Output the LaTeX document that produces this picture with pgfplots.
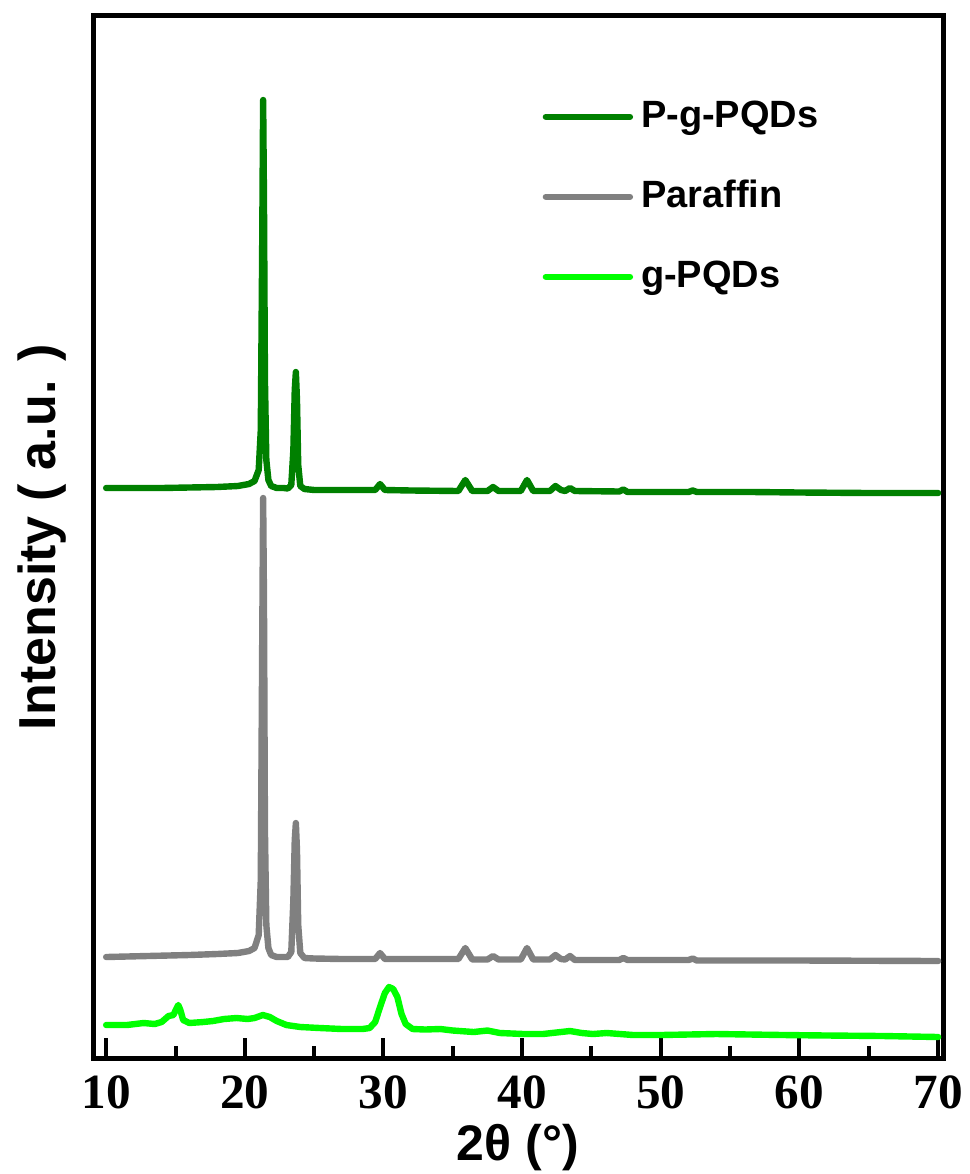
\documentclass[border=0pt]{standalone}
\usepackage{fontspec}
\setmainfont{Liberation Serif}
\setsansfont{Liberation Sans}
\usepackage{pgfplots}
\pgfplotsset{compat=1.18}
\definecolor{dgreen}{RGB}{0,128,0}
\definecolor{pgray}{RGB}{128,128,128}
\definecolor{lgreen}{RGB}{0,255,0}

\begin{document}
\begin{tikzpicture}
\useasboundingbox (-23.25pt,-29pt) rectangle (219.25pt,264.5pt);
\begin{axis}[at={(0,0)}, anchor=south west, scale only axis, width=212.5pt, height=260.5pt,
  xmin=9.05, xmax=70.35, ymin=16, ymax=1058, y dir=reverse,
  xtick={10,20,...,70}, minor x tick num=1, xtick pos=bottom, ytick=\empty,
  tick align=inside, major tick length=5pt, minor tick length=3pt,
  tick style={line width=1pt, black},
  axis line style={line width=1.25pt},
  /pgf/number format/assume math mode=true,
  xticklabel style={font=\bfseries\fontsize{12.3}{14}\selectfont, yshift=-1pt},
  xlabel={2θ (°)}, ylabel={Intensity ( a.u. )},
  xlabel style={font=\sffamily\bfseries\fontsize{12.5}{14}\selectfont, at={(axis description cs:0.5,-0.0979)}, anchor=base},
  ylabel style={font=\sffamily\bfseries\fontsize{13}{14}\selectfont, at={(axis description cs:-0.0447,0.5)}, anchor=base, rotate=0},
  legend style={draw=none, fill=none, at={(0.514,0.935)}, anchor=north west,
    font=\sffamily\bfseries\fontsize{9.5}{11}\selectfont, row sep=7.75pt},
  legend cell align=left,
  legend image code/.code={\draw[#1, line cap=round] (1.25pt,0pt) -- (22.25pt,0pt);},
  every axis plot/.append style={line width=1.6pt, line join=round, line cap=round}]
\addplot[dgreen] coordinates {
(10,488) (12,488) (14,488) (16,487.5) (18,487) (19.5,486) (20.3,484) (20.7,481)
(21.0,470) (21.15,430) (21.25,250) (21.32,100) (21.38,200) (21.45,380) (21.55,460)
(21.7,480) (21.9,486) (22.3,488) (22.8,488) (23.1,488.5) (23.35,485) (23.5,450)
(23.6,390) (23.68,372) (23.76,400) (23.85,465) (24.0,486) (24.3,489) (25,490)
(27,490) (29.4,490) (29.75,484) (30.1,490) (32,490.5) (35.4,491) (35.9,480)
(36.4,491) (37.5,491) (37.9,487) (38.3,491) (39.9,491) (40.35,480) (40.8,491)
(42.0,491) (42.4,486) (42.8,490) (43.1,491) (43.45,488) (43.8,491) (47.0,491.5)
(47.3,489.5) (47.6,492) (52.0,492) (52.3,490.5) (52.6,492) (56.5,492) (60,492.5)
(65,493) (70,493)
};
\addlegendentry{P-g-PQDs}
\addplot[pgray] coordinates {
(10,957) (13,956) (16,955) (18,954) (19.5,953) (20.3,951) (20.7,948) (21.0,935)
(21.15,880) (21.25,650) (21.32,498) (21.38,600) (21.45,830) (21.55,925) (21.7,948)
(21.9,955) (22.3,957) (22.8,957) (23.1,957) (23.35,952) (23.5,900) (23.6,840)
(23.68,823) (23.76,850) (23.85,925) (24.0,953) (24.3,958) (25,958.5) (27,959)
(29.4,959) (29.75,953) (30.1,959) (32,959) (35.4,959) (35.9,948) (36.4,959.5)
(37.5,959.5) (37.9,956) (38.3,959.5) (39.9,959.5) (40.35,948) (40.8,959.5)
(42.0,959.5) (42.4,955) (42.8,959) (43.1,959.5) (43.45,956) (43.8,960) (47.0,960)
(47.3,958) (47.6,960) (52.0,960) (52.3,958.5) (52.6,960.5) (60,960.5) (70,961)
};
\addlegendentry{Paraffin}
\addplot[lgreen] coordinates {
(10,1025) (11.5,1025) (12.7,1023) (13.5,1024) (14.0,1022) (14.5,1016) (14.85,1015)
(15.05,1009) (15.2,1005) (15.35,1010) (15.55,1020) (16.0,1023) (17.0,1022)
(17.7,1021) (18.5,1019) (19.4,1018) (20.2,1019) (20.7,1018) (21.3,1015) (21.8,1017)
(22.3,1021) (23.0,1025) (24.0,1027) (25.4,1028) (27,1029) (28.5,1029) (29.0,1028)
(29.4,1022) (29.8,1005) (30.1,993) (30.4,987) (30.7,989) (31.0,997) (31.3,1014)
(31.6,1024) (32.1,1029) (33,1029.5) (34.1,1029) (35,1030.5) (36.5,1032) (37.5,1030.5)
(38.4,1033) (40.1,1034) (41.5,1034) (43.45,1031) (44.3,1033) (45.1,1034) (46.1,1033)
(48,1035) (50,1035) (54,1034) (58.8,1035) (62,1035.5) (66,1036) (70,1037)
};
\addlegendentry{g-PQDs}
\end{axis}
\end{tikzpicture}
\end{document}
